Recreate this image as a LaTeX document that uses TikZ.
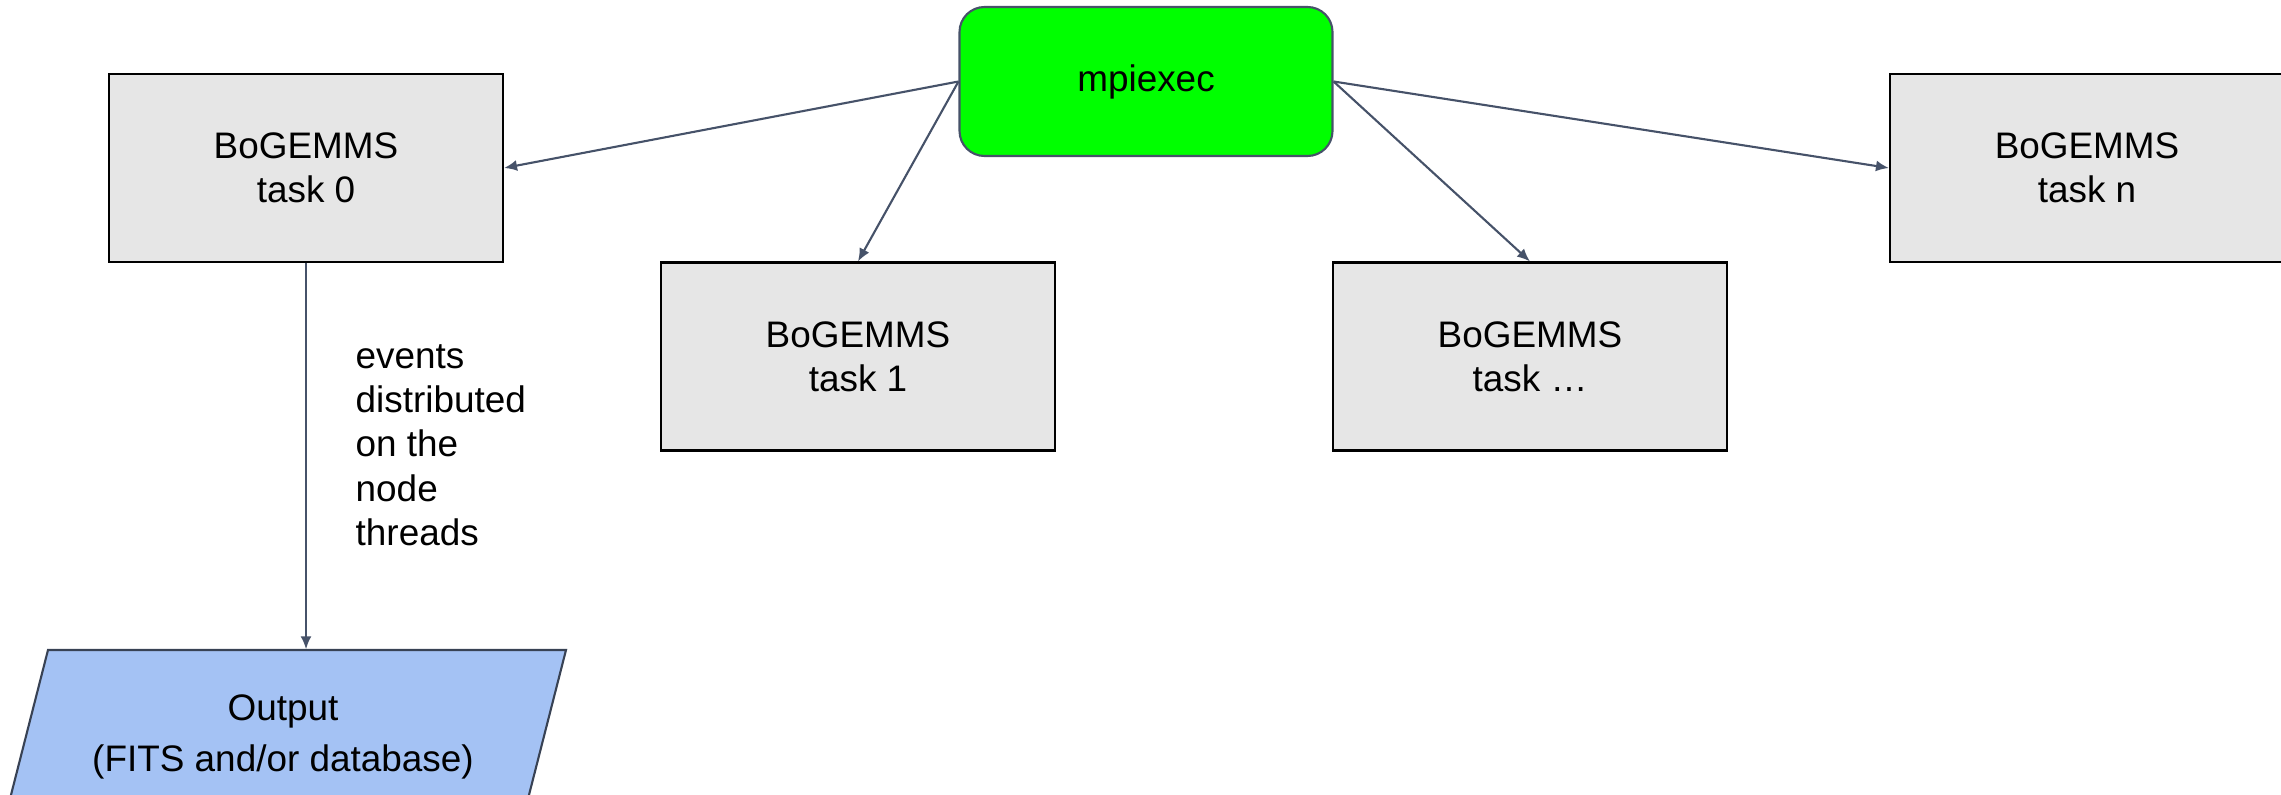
\documentclass[tikz,border=0pt]{standalone}
\usepackage{fontspec}
\setmainfont{Liberation Sans}
\usepackage{xcolor}
\usepackage{tikz}
\usetikzlibrary{arrows.meta,positioning}

\definecolor{linkgray}{RGB}{70,82,105}
\definecolor{taskgray}{RGB}{230,230,230}
\definecolor{mpigreen}{RGB}{0,255,0}
\definecolor{outblue}{RGB}{164,194,244}

\begin{document}
\begin{tikzpicture}[font=\fontsize{10.5}{12.6}\selectfont,>={Latex[length=1.3mm,width=1.1mm]},
  taskbox/.style={draw=black,line width=0.6pt,fill=taskgray,minimum width=3.94cm,minimum height=1.88cm,align=center},
  link/.style={->,draw=linkgray,line width=0.6pt}]
  \useasboundingbox (0,0) rectangle (22.81,-7.94);
  \node[draw=linkgray,line width=0.6pt,fill=mpigreen,rounded corners=0.25cm,minimum width=3.73cm,minimum height=1.49cm] (mpi) at (11.46,-0.815) {mpiexec};
  \node[taskbox] (task0) at (3.06,-1.68) {BoGEMMS\\task 0};
  \node[taskbox] (task1) at (8.58,-3.565) {BoGEMMS\\task 1};
  \node[taskbox] (taskdots) at (15.30,-3.565) {BoGEMMS\\task \dots};
  \node[taskbox] (taskn) at (20.87,-1.68) {BoGEMMS\\task n};
  % output parallelogram
  \draw[draw=linkgray!80!black,line width=0.6pt,fill=outblue] (0.48,-6.50) -- (5.66,-6.50) -- (5.18,-8.38) -- (0.00,-8.38) -- cycle;
  \node[minimum width=5.18cm,minimum height=1.74cm,align=center,font=\fontsize{10.5}{14.6}\selectfont] (output) at (2.83,-7.37) {Output\\(FITS and/or database)};
  \node[anchor=west,align=left,inner sep=0pt] (events) at (3.55,-4.45) {events\\distributed\\on the\\node\\threads};
  \draw[link] (mpi.west) -- (task0.east);
  \draw[link] (mpi.west) -- (task1.north);
  \draw[link] (mpi.east) -- (taskdots.north);
  \draw[link] (mpi.east) -- (taskn.west);
  \draw[link] (task0.south) -- (task0.south |- output.north);
\end{tikzpicture}
\end{document}
